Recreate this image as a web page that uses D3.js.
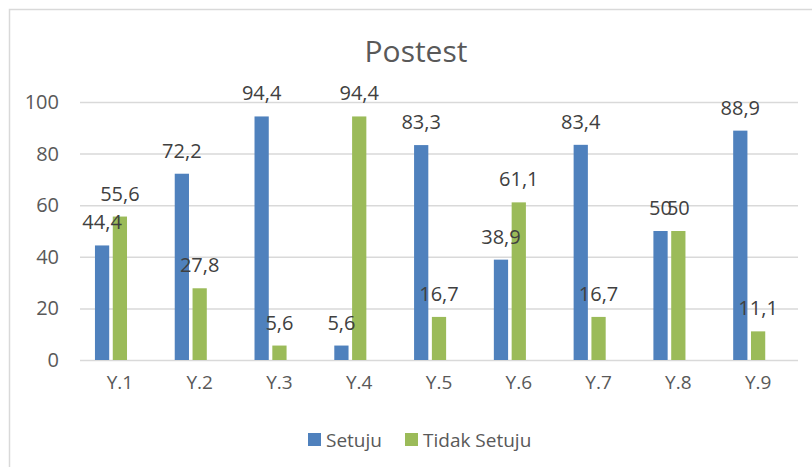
<!DOCTYPE html>
<html>
<head>
<meta charset="utf-8">
<script src="https://cdn.jsdelivr.net/npm/d3@7"></script>
<style>
  body { margin: 0; background: #fff; }
  text { font-family: "Open Sans", sans-serif; }
</style>
</head>
<body>
<div id="chart"></div>
<script>
////// DATA
var categories = ["Y.1", "Y.2", "Y.3", "Y.4", "Y.5", "Y.6", "Y.7", "Y.8", "Y.9"];
var setuju = [44.4, 72.2, 94.4, 5.6, 83.3, 38.9, 83.4, 50, 88.9];
var tidakSetuju = [55.6, 27.8, 5.6, 94.4, 16.7, 61.1, 16.7, 50, 11.1];
var seriesNames = ["Setuju", "Tidak Setuju"];
// the original chart keeps room for a third (empty) series
var slots = ["Setuju", "Tidak Setuju", "kosong"];
var yTicks = [0, 20, 40, 60, 80, 100];
var colors = { "Setuju": "#4f81bd", "Tidak Setuju": "#9bbb59" };

////// SETUP SVG
var W = 812, H = 467;
var svg = d3.select("#chart").append("svg")
    .attr("width", W)
    .attr("height", H);

// chart border (runs off the right and bottom edge)
svg.append("rect")
    .attr("x", 9.5).attr("y", 9.5)
    .attr("width", 900).attr("height", 600)
    .attr("fill", "none")
    .attr("stroke", "#d9d9d9")
    .attr("stroke-width", 1.5);

// title
svg.append("text")
    .attr("x", 416).attr("y", 62)
    .attr("text-anchor", "middle")
    .attr("font-size", "30px")
    .attr("fill", "#595959")
    .text("Postest");

////// SCALES
var x = d3.scaleBand()
    .domain(categories)
    .range([80, 798])
    .padding(0);

var xSub = d3.scaleBand()
    .domain(slots)
    .range([0, x.bandwidth()])
    .paddingInner(0.2)
    .paddingOuter(0.84);

var y = d3.scaleLinear()
    .domain([0, 100])
    .range([360, 102]);

////// GRIDLINES + Y AXIS
var yAxis = svg.append("g")
    .attr("transform", "translate(80,0)")
    .call(d3.axisLeft(y).tickValues(yTicks).tickSize(-718).tickPadding(21));
yAxis.select(".domain").remove();
yAxis.selectAll("line")
    .attr("stroke", "#d9d9d9")
    .attr("stroke-width", 1.5);
yAxis.selectAll("text")
    .attr("font-size", "20px")
    .attr("fill", "#595959");

////// X AXIS
var xAxis = svg.append("g")
    .attr("transform", "translate(0,360)")
    .call(d3.axisBottom(x).tickSize(0).tickPadding(16));
xAxis.select(".domain").remove();
xAxis.selectAll("text")
    .attr("font-size", "19px")
    .attr("fill", "#595959");

////// BARS
var flat = [];
categories.forEach(function(c, i) {
    flat.push({ cat: c, key: "Setuju", value: setuju[i] });
    flat.push({ cat: c, key: "Tidak Setuju", value: tidakSetuju[i] });
});

function barX(d) { return x(d.cat) + xSub(d.key); }

svg.append("g").selectAll("rect")
    .data(flat)
    .enter().append("rect")
    .attr("x", barX)
    .attr("y", function(d) { return y(d.value); })
    .attr("width", xSub.bandwidth())
    .attr("height", function(d) { return y(0) - y(d.value); })
    .attr("fill", function(d) { return colors[d.key]; });

// data labels on top of all bars
svg.append("g").selectAll("text")
    .data(flat)
    .enter().append("text")
    .attr("x", function(d) { return barX(d) + xSub.bandwidth() / 2; })
    .attr("y", function(d) { return y(d.value) - 16; })
    .attr("text-anchor", "middle")
    .attr("font-size", "20px")
    .attr("fill", "#404040")
    .text(function(d) { return String(d.value).replace(".", ","); });

////// LEGEND
var legendX = [308, 405];
var legend = svg.selectAll(".leg")
    .data(seriesNames)
    .enter().append("g")
    .attr("transform", function(d, i) { return "translate(" + legendX[i] + ",433)"; });

legend.append("rect")
    .attr("width", 13).attr("height", 13)
    .attr("fill", function(d) { return colors[d]; });

legend.append("text")
    .attr("x", 18).attr("y", 13.5)
    .attr("font-size", "19px")
    .attr("fill", "#595959")
    .text(function(d) { return d; });
</script>
</body>
</html>
